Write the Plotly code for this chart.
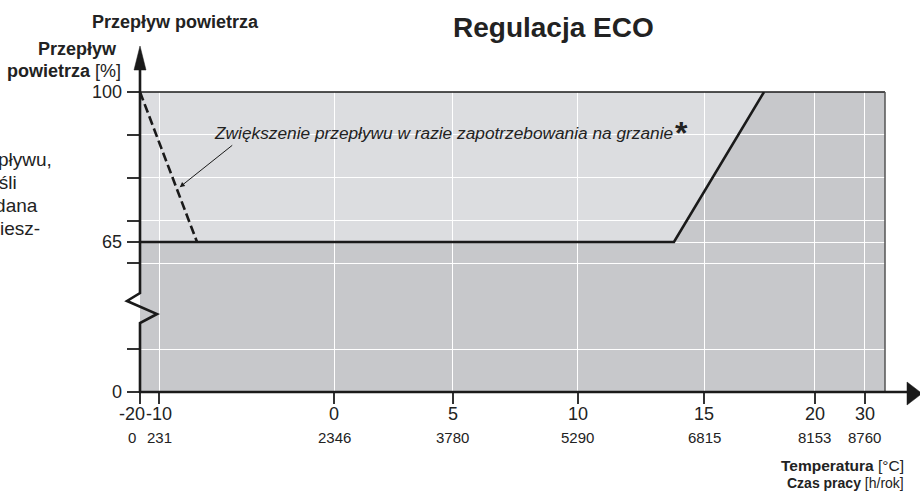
import plotly.graph_objects as go

# ---------------- data ----------------
hours = [0, 231, 2346, 3780, 5290, 6815, 8153, 8760]          # Czas pracy [h/rok]
temps = ["-20", "-10", "0", "5", "10", "15", "20", "30"]       # Temperatura [°C]
flow_labels = [0, 65, 100]                                     # Przepływ powietrza [%]

eco_x = [0, 6452, 7540]        # ECO curve, hours
eco_y = [65, 65, 100]          # %
boost_x = [0, 689]             # dashed: increase on heating demand
boost_y = [100, 65]

# ---------------- broken y-scale (schematic) ----------------
def ys(v):
    if v <= 65:
        return v / 65 * 3.5
    return 3.5 + (v - 65) / 35 * 3.5

Y_GRID = [0, 1, 3, 3.5, 4, 5, 6, 7]

W, H = 920, 497
L, R, T, B = 140, 35, 92, 105
PW, PH = W - L - R, H - T - B

def px(x):   # pixel -> paper x
    return (x - L) / PW

def py(y):   # pixel -> paper y
    return (H - B - y) / PH

FONT = "Liberation Sans, Arial, Helvetica, sans-serif"
TXT = "#222222"
LINE = "#1a1a1a"
LIGHT = "#dcdde0"
DARK = "#c7c8cb"

fig = go.Figure()

# light region above the ECO curve
poly_x = eco_x + [eco_x[0]]
poly_y = [ys(v) for v in eco_y] + [ys(100)]
path = "M " + " L ".join(f"{x},{y}" for x, y in zip(poly_x, poly_y)) + " Z"
shapes = [dict(type="path", xref="x", yref="y", path=path, fillcolor=LIGHT,
               line=dict(width=0), layer="below")]

fig.add_trace(go.Scatter(x=eco_x, y=[ys(v) for v in eco_y], mode="lines",
                         line=dict(color=LINE, width=2.6), hoverinfo="skip",
                         showlegend=False))
fig.add_trace(go.Scatter(x=boost_x, y=[ys(v) for v in boost_y], mode="lines",
                         line=dict(color=LINE, width=2.6, dash="9px,4px"),
                         hoverinfo="skip", showlegend=False))

# ---------------- axes decorations ----------------
def ppath(pts, close=False):
    s = "M " + " L ".join(f"{px(a)},{py(b)}" for a, b in pts)
    return s + (" Z" if close else "")

# frame: top and right
shapes.append(dict(type="line", xref="paper", yref="paper", x0=0, x1=1, y0=1, y1=1,
                   line=dict(color=LINE, width=1.5)))
shapes.append(dict(type="line", xref="paper", yref="paper", x0=1, x1=1, y0=0, y1=1,
                   line=dict(color="#555555", width=1.5)))
# y axis with break
shapes.append(dict(type="path", xref="paper", yref="paper",
                   path=ppath([(140, 393), (140, 323), (157, 314), (127, 301), (140, 293), (140, 68)]),
                   line=dict(color=LINE, width=2.6)))
# x axis
shapes.append(dict(type="line", xref="paper", yref="paper", x0=px(139), x1=px(910),
                   y0=py(392), y1=py(392), line=dict(color=LINE, width=2.4)))
# arrowheads
shapes.append(dict(type="path", xref="paper", yref="paper",
                   path=ppath([(134, 70), (146, 70), (140, 46)], close=True),
                   fillcolor=LINE, line=dict(color=LINE, width=0.5)))
shapes.append(dict(type="path", xref="paper", yref="paper",
                   path=ppath([(907, 382), (907, 405), (922, 393.5)], close=True),
                   fillcolor=LINE, line=dict(color=LINE, width=0.5)))

ann = []
def text(x, y, s, size, xanchor="center", yanchor="middle", xref="paper", yref="paper"):
    ann.append(dict(x=x, y=y, xref=xref, yref=yref, text=s, showarrow=False,
                    xanchor=xanchor, yanchor=yanchor,
                    font=dict(family=FONT, size=size, color=TXT)))

# x tick labels (temperature and hours)
for h, t in zip(hours, temps):
    shift = -8 if h == 0 else 0
    ann.append(dict(x=h, y=py(414), xref="x", yref="paper", text=t, showarrow=False,
                    xanchor="center", yanchor="middle", xshift=shift,
                    font=dict(family=FONT, size=18, color=TXT)))
    ann.append(dict(x=h, y=py(437), xref="x", yref="paper", text=str(h), showarrow=False,
                    xanchor="center", yanchor="middle", xshift=shift,
                    font=dict(family=FONT, size=15, color=TXT)))

# y tick labels
for v in flow_labels:
    ann.append(dict(x=px(124), y=ys(v), xref="paper", yref="y", text=str(v), showarrow=False,
                    xanchor="right", yanchor="middle",
                    font=dict(family=FONT, size=18, color=TXT)))

# titles
text(px(553), py(27), "<b>Regulacja ECO</b>", 28)
text(px(90), py(22), "<b>Przepływ powietrza</b>", 18, xanchor="left")
text(px(119), py(49), "<b>Przepływ</b>", 18, xanchor="right")
text(px(123), py(71), "<b>powietrza</b> [%]", 18, xanchor="right")
text(px(906), py(465), "<b>Temperatura</b> [°C]", 15.5, xanchor="right")
text(px(906), py(483), "<b>Czas pracy</b> [h/rok]", 14, xanchor="right")

# clipped text fragments from the page on the left
text(px(54), py(159), "przepływu,", 19, xanchor="right")
text(px(19), py(182), "jeśli", 19, xanchor="right")
text(px(40), py(205), "zadana", 19, xanchor="right")
text(px(42), py(228), "pomiesz-", 19, xanchor="right")

# annotation about heating demand
text(px(212), py(133), "<i>Zwiększenie przepływu w razie zapotrzebowania na grzanie</i>", 17.3,
     xanchor="left")
text(px(681), py(133), "<b>*</b>", 32)
ann.append(dict(x=480, y=ys(77.8), xref="x", yref="y", ax=54, ay=-43,
                axref="pixel", ayref="pixel", showarrow=True, arrowhead=2,
                arrowsize=1, arrowwidth=1, arrowcolor=LINE, text=""))

fig.update_layout(
    width=W, height=H, margin=dict(l=L, r=R, t=T, b=B),
    paper_bgcolor="white", plot_bgcolor=DARK,
    shapes=shapes, annotations=ann, showlegend=False,
    xaxis=dict(range=[0, 9002], tickvals=hours, showticklabels=False,
               ticks="outside", ticklen=11, tickwidth=1.5, tickcolor="#333333",
               showgrid=True, gridcolor="white", gridwidth=1, zeroline=False,
               showline=False, fixedrange=True),
    yaxis=dict(range=[0, 7], tickvals=Y_GRID, showticklabels=False,
               ticks="outside", ticklen=12, tickwidth=1.5, tickcolor="#333333",
               showgrid=True, gridcolor="white", gridwidth=1, zeroline=False,
               showline=False, fixedrange=True),
)

fig.write_html("out.html", config={"displayModeBar": False},
               post_script="document.body.style.margin='0';")
